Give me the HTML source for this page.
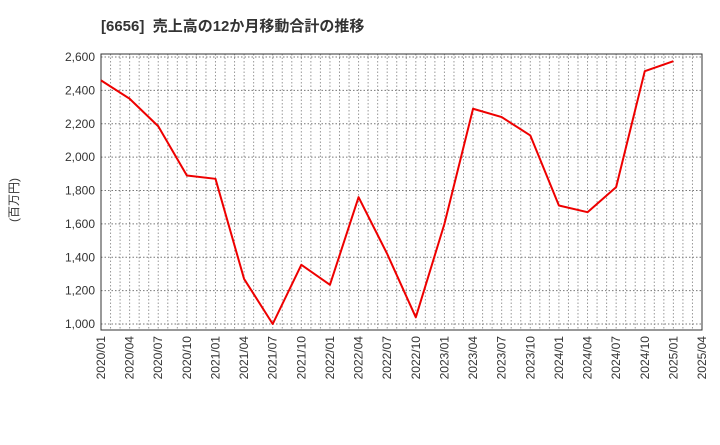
<!DOCTYPE html>
<html><head><meta charset="utf-8"><style>
body{margin:0;background:#fff;font-family:"Liberation Sans","Noto Sans CJK JP",sans-serif;}
</style></head><body>
<svg id="c" width="720" height="440" xmlns="http://www.w3.org/2000/svg">
<text x="101" y="31" font-size="15" font-weight="bold" fill="#333" font-family="Liberation Sans,Noto Sans CJK JP,sans-serif">[6656]&#160;&#160;売上高の12か月移動合計の推移</text>
<text transform="translate(18,200) rotate(-90)" text-anchor="middle" font-size="12" fill="#333" font-family="Liberation Sans,Noto Sans CJK JP,sans-serif">(百万円)</text>
<g id="grid"></g><g id="axes"></g><g id="series"></g>
</svg>
<script>
const categories=["2020/01","2020/04","2020/07","2020/10","2021/01","2021/04","2021/07","2021/10","2022/01","2022/04","2022/07","2022/10","2023/01","2023/04","2023/07","2023/10","2024/01","2024/04","2024/07","2024/10","2025/01"];
const values=[2460,2350,2185,1890,1870,1270,1000,1355,1235,1760,1420,1040,1600,2290,2240,2130,1710,1670,1820,2515,2575];
const xTickLabels=["2020/01","2020/04","2020/07","2020/10","2021/01","2021/04","2021/07","2021/10","2022/01","2022/04","2022/07","2022/10","2023/01","2023/04","2023/07","2023/10","2024/01","2024/04","2024/07","2024/10","2025/01","2025/04"];
const yTicks=[1000,1200,1400,1600,1800,2000,2200,2400,2600];
const NS="http://www.w3.org/2000/svg";
const L=101,R=702,T=54,B=330;
const x=i=>L+i*(R-L)/21;
const y=v=>324-(v-1000)*(267/1600);
function mk(tag,attrs,parent){const e=document.createElementNS(NS,tag);for(const k in attrs)e.setAttribute(k,attrs[k]);document.getElementById(parent).appendChild(e);return e;}
for(let m=1;m<63;m++){const xx=L+m*(R-L)/63;
const g=mk('line',{x1:xx,x2:xx,y1:T,y2:B,stroke:'#999','stroke-width':1,'stroke-dasharray':'1.5,2'},'grid');

}
yTicks.forEach(v=>{const yy=y(v);
const g=mk('line',{x1:L,x2:R,y1:yy,y2:yy,stroke:'#777','stroke-width':1,'stroke-dasharray':'1.5,2'},'grid');


const t=mk('text',{x:L-6,y:yy+4,'text-anchor':'end','font-size':12,fill:'#333'},'axes');t.textContent=v.toLocaleString('en-US');

});
xTickLabels.forEach((s,i)=>{const xx=x(i);
const t=mk('text',{transform:`translate(${xx+4},${B+6}) rotate(-90)`,'text-anchor':'end','font-size':12,fill:'#333'},'axes');t.textContent=s;

});
const fr=mk('rect',{x:L,y:T,width:R-L,height:B-T,fill:'none',stroke:'#333','stroke-width':1},'axes');


const pts=values.map((v,i)=>x(i)+','+y(v)).join(' ');
const pl=mk('polyline',{points:pts,fill:'none',stroke:'#e00','stroke-width':2,'stroke-linejoin':'round'},'series');


</script>
</body></html>
